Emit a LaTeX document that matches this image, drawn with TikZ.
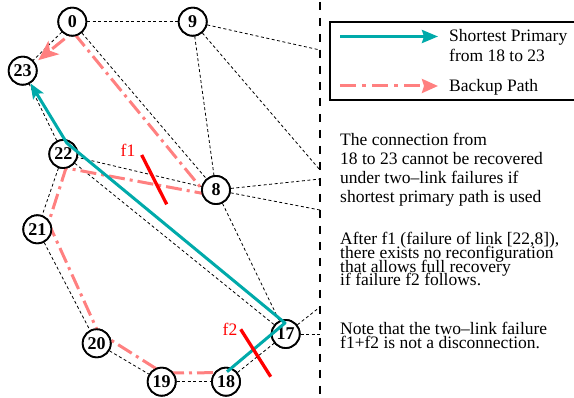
\documentclass[tikz,border=0pt]{standalone}
\usepackage{fontspec}
\setmainfont{Liberation Serif}
\usetikzlibrary{arrows.meta,calc}
\definecolor{tealA}{RGB}{0,170,170}
\definecolor{pinkA}{RGB}{255,128,128}
\lineskiplimit=-100pt
\begin{document}
\lineskiplimit=-100pt
\begin{tikzpicture}[x=1pt,y=-1pt,
  vtx/.style={circle,draw,line width=1.8pt,fill=white,minimum size=28pt,inner sep=0pt,font=\bfseries\fontsize{18}{18}\selectfont},
  link/.style={line width=0.8pt,dash pattern=on 3pt off 2.5pt},
  prim/.style={tealA,line width=3pt,-{Stealth[length=15pt,width=12pt,inset=3pt]}},
  backup/.style={pinkA,line width=3pt,dash pattern=on 16pt off 5pt on 3pt off 5pt,-{Stealth[length=20pt,width=17pt,inset=5pt]}},
  cut/.style={red,line width=3.3pt},
  flab/.style={red,font=\fontsize{17.5}{17.5}\selectfont,inner sep=0pt},
  txt/.style={anchor=north west,inner sep=0pt,align=left}
]
\useasboundingbox (0,0) rectangle (574,398);
% vertical separator
\draw[line width=2.3pt,dash pattern=on 8pt off 8pt] (320,2) -- (320,398);
% nodes
\node[vtx] (n0)  at (72.3,21.7) {0};
\node[vtx] (n9)  at (192.7,21.7) {9};
\node[vtx] (n23) at (22.7,70.7) {23};
\node[vtx] (n22) at (63.3,154) {22};
\node[vtx] (n8)  at (216,190) {8};
\node[vtx] (n21) at (37.3,229.3) {21};
\node[vtx] (n20) at (96.7,343.3) {20};
\node[vtx] (n19) at (161.7,381.7) {19};
\node[vtx] (n18) at (226,381.7) {18};
\node[vtx] (n17) at (285.7,334) {17};
\coordinate (r1) at (320,50);
\coordinate (r2) at (320,170);
\coordinate (r3) at (320,179);
\coordinate (r4) at (320,210);
\coordinate (r5) at (320,307);
\coordinate (r6) at (320,334);
% links
\draw[link] (n0) -- (n9);
\draw[link] (n0) -- (n23);
\draw[link] (n0) -- (n8);
\draw[link] (n9) -- (n8);
\draw[link] (n9) -- (r1);
\draw[link] (n9) -- (r2);
\draw[link] (n8) -- (r3);
\draw[link] (n8) -- (r4);
\draw[link] (n8) -- (n22);
\draw[link] (n8) -- (n17);
\draw[link] (n22) -- (n17);
\draw[link] (n22) -- (n23);
\draw[link] (n22) -- (n21);
\draw[link] (n21) -- (n20);
\draw[link] (n20) -- (n19);
\draw[link] (n19) -- (n18);
\draw[link] (n18) -- (n17);
\draw[link] (n17) -- (r5);
\draw[link] (n17) -- (r6);
% backup path
\draw[backup,line join=round] ($(n18)+(-13,-9)$) -- ($(n19)+(1.3,-8.7)$) -- ($(n20)+(1.4,-11.3)$)
  -- ($(n21)+(11.2,-6.3)$) -- ($(n22)+(2.7,14)$) -- ($(n8)+(-10,4)$) -- ($(n0)+(0.7,10.3)$) -- ($(n23)+(15.5,-10.5)$);
% redraw nodes on top of backup path
\foreach \n/\l in {n0/0,n9/9,n23/23,n22/22,n8/8,n21/21,n20/20,n19/19,n18/18,n17/17}{
  \node[vtx] at (\n) {\l};
}
% primary path
\draw[prim,line join=round] ($(n18)+(1,-10)$) -- ($(n17)+(-0.7,-11)$) -- ($(n22)+(3.5,-11)$) -- (n23);
% failures
\draw[cut] (141.7,155) -- (166.7,204.3);
\draw[cut] (240.7,329.3) -- (270.7,376.7);
\node[flab] (f1) at (128,150) {f1};
\node[flab] (f2) at (230,329) {f2};
% legend
\draw[line width=1.2pt] (580,22) -- (330,22) -- (330,100) -- (580,100);
\coordinate (la) at (340,36.5);
\coordinate (lb) at (438,36.5);
\coordinate (lc) at (340,86);
\coordinate (ld) at (438,86);
\draw[tealA,line width=3pt,-{Stealth[length=16pt,width=13pt,inset=2pt]}] (la) -- (lb);
\draw[pinkA,line width=3pt,dash pattern=on 16pt off 6pt on 4pt off 6pt,-{Stealth[length=16pt,width=14pt,inset=2pt]}] (lc) -- (ld);
\node[txt,font=\fontsize{17.5}{20.3}\selectfont] (lt1) at (449,28.7) {Shortest Primary\\from 18 to 23};
\node[txt,font=\fontsize{17.5}{20}\selectfont] (lt2) at (449,78.7) {Backup Path};
% explanation
\node[txt,font=\fontsize{17.5}{19.3}\selectfont] (tA) at (340,132.5) {The connection from\\18 to 23 cannot be recovered\\under two--link failures if\\shortest primary path is used};
\node[txt,font=\fontsize{17.5}{13.8}\selectfont] (tB) at (340,232) {After f1 (failure of link [22,8]),\\there exists no reconfiguration\\that allows full recovery\\if failure f2 follows.};
\node[txt,font=\fontsize{17.5}{14}\selectfont] (tC) at (340,322.3) {Note that the two--link failure\\f1+f2 is not a disconnection.};
\end{tikzpicture}
\end{document}
